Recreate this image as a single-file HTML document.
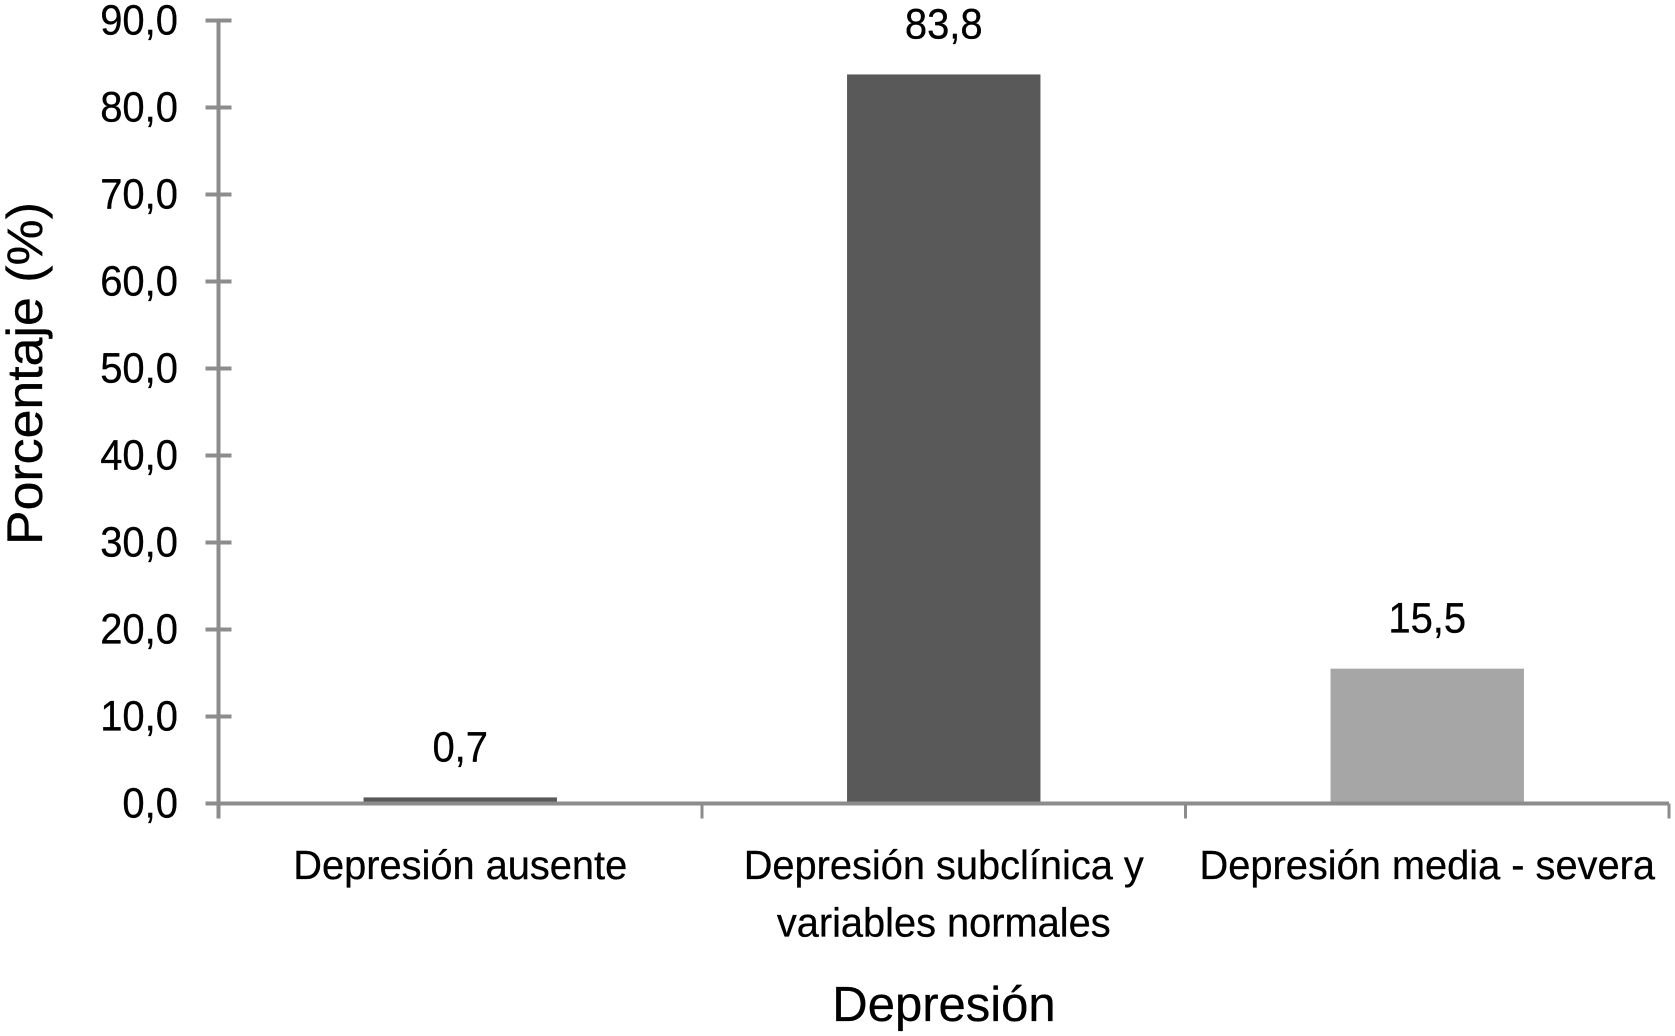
<!DOCTYPE html>
<html lang="es">
<head>
<meta charset="utf-8">
<title>Porcentaje por nivel de depresión</title>
<style>
html,body{margin:0;padding:0;background:#fff;width:1675px;height:1036px;overflow:hidden}
svg{display:block}
text{font-family:"Liberation Sans",sans-serif;fill:#000;stroke:#000;stroke-width:.3px}
</style>
</head>
<body>
<svg id="chart" width="1675" height="1036" viewBox="0 0 1675 1036" xmlns="http://www.w3.org/2000/svg">
<rect x="0" y="0" width="1675" height="1036" fill="#ffffff"/>
<g id="bars"></g>
<g id="axes"></g>
<g id="labels"></g>
<text id="ytitle" transform="translate(42,545) rotate(-90)" font-size="50">Porcentaje (%)</text>
<text id="xtitle" x="944" y="1021" text-anchor="middle" font-size="49">Depresión</text>
</svg>
<script>
const categories = [["Depresión ausente"], ["Depresión subclínica y", "variables normales"], ["Depresión media - severa"]];
const values = [0.7, 83.8, 15.5];
const barColors = ["#595959", "#595959", "#a6a6a6"];
const tickValues = [0, 10, 20, 30, 40, 50, 60, 70, 80, 90];
const tickLabels = ["0,0", "10,0", "20,0", "30,0", "40,0", "50,0", "60,0", "70,0", "80,0", "90,0"];

const NS = "http://www.w3.org/2000/svg";
const plotLeft = 218.5, plotRight = 1669, plotTop = 20.5, plotBottom = 803.5, axisMax = 90;
const bandWidth = (plotRight - plotLeft) / categories.length;
const barWidth = bandWidth * 0.4;
const axisColor = "#8c8c8c";
function yScale(v) { return plotBottom - (v / axisMax) * (plotBottom - plotTop); }
function xCenter(i) { return plotLeft + bandWidth * (i + 0.5); }
function make(parent, tag, attrs) {
  const el = document.createElementNS(NS, tag);
  for (const k in attrs) el.setAttribute(k, attrs[k]);
  parent.appendChild(el);
  return el;
}
function narrow(el, factor) {
  el.setAttribute("textLength", (el.getComputedTextLength() * factor).toFixed(1));
  el.setAttribute("lengthAdjust", "spacingAndGlyphs");
}
const barsG = document.getElementById("bars");
const axesG = document.getElementById("axes");
const labelsG = document.getElementById("labels");

values.forEach(function (v, i) {
  const top = yScale(v);
  const bar = make(barsG, "rect", { x: xCenter(i) - barWidth / 2, y: top, width: barWidth, height: plotBottom - top, fill: barColors[i] });
  
  
  const label = make(labelsG, "text", { x: xCenter(i), y: top - 36, "text-anchor": "middle", "font-size": 43 });
  
  
  label.textContent = v.toFixed(1).replace(".", ",");
  narrow(label, 0.93);
});

const yAxis = make(axesG, "line", { x1: plotLeft, x2: plotLeft, y1: plotTop, y2: plotBottom + 15, stroke: axisColor, "stroke-width": 4 });


const xAxis = make(axesG, "line", { x1: plotLeft - 13, x2: plotRight, y1: plotBottom, y2: plotBottom, stroke: axisColor, "stroke-width": 4 });



tickValues.forEach(function (t, i) {
  const y = yScale(t);
  const tick = make(axesG, "line", { x1: plotLeft - 13, x2: plotLeft + 13, y1: y, y2: y, stroke: axisColor, "stroke-width": 4 });
  
  
  const label = make(labelsG, "text", { x: 178, y: y + 14, "text-anchor": "end", "font-size": 43 });
  
  
  label.textContent = tickLabels[i];
  narrow(label, 0.93);
});

for (let i = 1; i <= categories.length; i++) {
  const x = plotLeft + bandWidth * i;
  const tick = make(axesG, "line", { x1: x, x2: x, y1: plotBottom, y2: plotBottom + 15, stroke: axisColor, "stroke-width": 3 });
  
  
}

categories.forEach(function (lines, i) {
  lines.forEach(function (line, j) {
    const label = make(labelsG, "text", { x: xCenter(i), y: 879 + j * 57.5, "text-anchor": "middle", "font-size": 41 });
    
    
    label.textContent = line;
    narrow(label, 0.97);
  });
});

narrow(document.getElementById("ytitle"), 1.037);
narrow(document.getElementById("xtitle"), 1);
</script>
</body>
</html>
